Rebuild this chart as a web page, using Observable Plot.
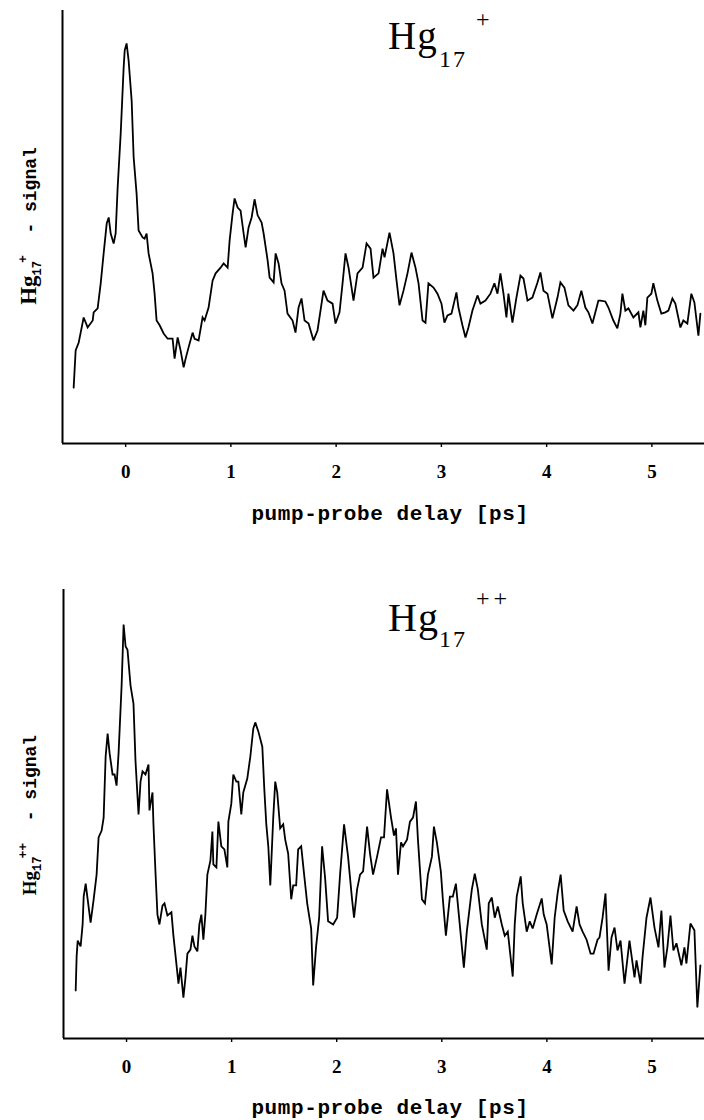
<!DOCTYPE html>
<html><head><meta charset="utf-8">
<script src="https://cdn.jsdelivr.net/npm/d3@7"></script>
<script src="https://cdn.jsdelivr.net/npm/@observablehq/plot@0.6"></script>
<style>
body{margin:0;background:#fff;}
#chart svg{display:block;}
</style></head><body><div id="chart"></div>
<script>
const delayTicks = [0, 1, 2, 3, 4, 5];
const delayDomain = [-0.6, 5.5];
const xLabel = "pump-probe delay [ps]";

// Hg17+ signal (arbitrary units, 0 = axis baseline)
const hg1Delay = [-0.494,-0.475,-0.446,-0.399,-0.361,-0.313,-0.304,-0.266,-0.237,-0.209,-0.180,-0.161,-0.142,-0.114,-0.095,-0.076,-0.047,-0.019,-0.009,0.009,0.028,0.057,0.076,0.104,0.123,0.161,0.180,0.199,0.218,0.256,0.275,0.294,0.323,0.361,0.399,0.446,0.465,0.494,0.522,0.551,0.570,0.598,0.636,0.655,0.693,0.731,0.750,0.788,0.826,0.855,0.902,0.931,0.969,0.988,1.016,1.035,1.064,1.092,1.121,1.140,1.168,1.197,1.225,1.254,1.292,1.311,1.349,1.368,1.406,1.425,1.453,1.481,1.510,1.538,1.586,1.614,1.643,1.671,1.700,1.738,1.785,1.823,1.880,1.918,1.966,1.994,2.032,2.061,2.089,2.118,2.165,2.203,2.251,2.289,2.327,2.355,2.403,2.441,2.460,2.507,2.545,2.574,2.602,2.640,2.678,2.716,2.754,2.783,2.821,2.849,2.877,2.925,2.963,3.001,3.029,3.058,3.096,3.143,3.162,3.200,3.229,3.257,3.295,3.343,3.371,3.419,3.466,3.504,3.533,3.561,3.590,3.618,3.637,3.675,3.713,3.751,3.780,3.818,3.865,3.913,3.941,3.970,4.008,4.055,4.103,4.131,4.169,4.207,4.255,4.292,4.330,4.368,4.397,4.435,4.463,4.492,4.511,4.558,4.587,4.634,4.672,4.701,4.720,4.748,4.777,4.824,4.872,4.891,4.919,4.938,4.957,4.995,5.014,5.052,5.090,5.128,5.157,5.195,5.223,5.271,5.299,5.337,5.375,5.404,5.442,5.461];
const hg1Signal = [12.9,21.5,23.3,29.1,26.8,28.4,30.3,31.2,37.0,43.9,50.8,52.2,48.5,46.2,48.5,59.1,71.6,86.8,90.8,92.4,88.5,79.2,66.1,57.7,49.2,47.6,47.3,48.5,43.9,39.3,34.6,28.4,27.3,25.4,24.2,24.2,19.6,24.5,21.5,17.6,19.6,22.2,25.6,24.2,23.8,29.1,28.4,31.4,37.6,39.3,40.6,41.6,40.6,46.9,53.1,56.6,54.5,53.8,48.5,45.3,49.9,52.2,56.4,52.7,51.0,48.5,42.3,38.3,37.2,43.9,41.6,37.0,35.3,30.0,28.4,25.6,31.4,33.5,28.4,27.7,23.8,26.1,35.3,33.0,32.3,27.7,30.3,37.0,43.9,40.6,33.0,39.3,40.6,46.2,45.0,38.3,39.3,45.0,43.0,48.7,43.9,37.6,31.9,35.3,39.3,44.1,40.6,37.0,28.4,27.9,37.0,36.0,34.6,32.3,27.9,29.6,30.0,34.9,31.4,27.3,24.5,26.8,30.7,34.2,32.3,33.0,34.6,37.0,34.6,39.3,34.6,29.1,34.6,27.9,33.7,38.8,38.1,33.0,33.7,37.2,39.5,35.3,34.6,28.9,33.7,37.2,36.0,31.9,30.7,31.9,35.3,31.4,30.3,27.7,30.3,33.0,33.0,32.8,31.4,28.4,26.6,30.0,34.6,30.7,31.2,29.1,30.3,26.8,30.7,27.3,33.7,34.6,37.0,33.0,30.0,30.3,30.7,33.5,32.3,26.8,28.4,27.7,34.6,32.6,24.9,30.0];

// Hg17++ signal (arbitrary units)
const hg2Delay = [-0.484,-0.475,-0.465,-0.437,-0.418,-0.408,-0.389,-0.370,-0.342,-0.313,-0.285,-0.266,-0.237,-0.218,-0.199,-0.180,-0.161,-0.133,-0.114,-0.095,-0.076,-0.047,-0.028,-0.009,0.009,0.038,0.066,0.085,0.114,0.133,0.152,0.180,0.209,0.218,0.247,0.256,0.275,0.294,0.313,0.342,0.361,0.389,0.427,0.446,0.475,0.494,0.513,0.541,0.560,0.579,0.608,0.627,0.646,0.674,0.693,0.712,0.731,0.750,0.769,0.798,0.817,0.826,0.855,0.874,0.902,0.931,0.959,0.969,0.997,1.016,1.045,1.064,1.092,1.111,1.149,1.178,1.206,1.225,1.254,1.292,1.311,1.330,1.349,1.368,1.396,1.415,1.434,1.462,1.491,1.510,1.538,1.567,1.586,1.614,1.633,1.662,1.690,1.719,1.757,1.776,1.804,1.833,1.861,1.890,1.918,1.966,2.004,2.032,2.070,2.108,2.146,2.165,2.194,2.222,2.251,2.289,2.317,2.346,2.384,2.422,2.450,2.479,2.517,2.545,2.564,2.583,2.612,2.631,2.669,2.697,2.726,2.754,2.773,2.811,2.840,2.868,2.906,2.925,2.953,2.991,3.010,3.039,3.077,3.105,3.134,3.162,3.210,3.238,3.286,3.314,3.343,3.381,3.428,3.447,3.476,3.504,3.533,3.571,3.599,3.628,3.675,3.694,3.713,3.751,3.770,3.808,3.837,3.865,3.903,3.951,3.970,3.998,4.046,4.074,4.103,4.131,4.160,4.198,4.245,4.283,4.311,4.340,4.378,4.416,4.444,4.482,4.501,4.530,4.558,4.587,4.615,4.644,4.672,4.701,4.739,4.786,4.834,4.853,4.891,4.910,4.948,4.986,5.024,5.062,5.090,5.119,5.147,5.176,5.204,5.233,5.280,5.309,5.328,5.366,5.404,5.432,5.461];
const hg2Signal = [10.7,18.3,21.8,20.5,25.4,31.6,34.5,31.0,25.8,31.0,36.5,44.8,46.3,49.2,62.8,67.9,63.5,58.8,58.8,56.3,63.5,78.6,92.2,87.3,86.6,78.6,74.6,61.9,49.9,57.2,59.5,58.8,61.0,50.8,54.8,47.7,37.2,27.6,25.4,29.6,30.1,27.4,28.1,22.9,16.5,12.2,15.8,9.1,13.4,18.9,19.8,22.9,20.5,19.4,25.4,27.6,22.0,27.6,36.5,39.6,46.1,38.8,38.1,48.3,42.8,42.1,38.1,48.3,52.3,58.8,57.2,57.2,49.9,54.8,57.9,62.8,69.0,70.4,68.4,65.0,55.5,47.7,42.8,34.1,49.2,57.2,54.8,46.8,47.7,44.3,41.2,31.0,34.1,34.1,42.1,42.8,36.5,30.1,24.5,11.8,20.5,26.9,42.8,35.6,26.1,25.4,26.9,36.5,47.7,40.5,31.0,26.9,33.2,36.5,37.2,47.2,41.2,36.5,40.5,44.8,44.8,55.5,49.2,45.2,46.8,36.5,43.7,42.8,44.3,48.3,49.2,52.8,44.3,31.0,30.1,36.5,40.5,47.2,43.7,37.2,31.0,22.9,31.6,31.6,34.5,27.6,15.8,23.8,33.2,36.7,33.2,25.4,19.8,30.1,31.4,26.9,29.4,25.4,22.9,23.8,13.8,25.4,31.6,36.1,30.1,23.8,26.1,24.5,27.6,31.2,27.6,25.4,16.5,26.9,32.5,36.5,28.5,26.1,23.8,29.4,25.4,23.8,22.0,18.9,18.9,22.0,22.5,26.9,32.3,15.1,22.5,24.7,19.6,21.8,12.2,21.8,13.6,17.4,12.2,18.0,26.9,31.4,24.7,20.3,28.5,15.8,20.3,27.4,19.6,21.2,16.3,20.3,16.7,25.6,24.1,6.9,16.3];

const panels = [
  {delay: hg1Delay, signal: hg1Signal, charge: "+", height: 530, marginTop: 10, marginBottom: 87, marginLeft: 62,
   title: {x: 388, y: 49, hgSize: 39, subY: 67, supY: 27, supSpacing: 0},
   ylab: {x: 36, y: 226, hgSize: 23}, xlabY: 520},
  {delay: hg2Delay, signal: hg2Signal, charge: "++", height: 590, marginTop: 59, marginBottom: 82, marginLeft: 63,
   title: {x: 388, y: 101, hgSize: 40, subY: 117, supY: 76, supSpacing: 4},
   ylab: {x: 36, y: 285, hgSize: 19}, xlabY: 584}
];

const chart = document.getElementById("chart");
for (const p of panels) {
  const n = Math.min(p.delay.length, p.signal.length);
  const data = d3.range(n).map(i => ({delay: p.delay[i], signal: p.signal[i]}));
  const svg = Plot.plot({
    width: 704, height: p.height,
    marginTop: p.marginTop, marginBottom: p.marginBottom, marginLeft: p.marginLeft, marginRight: 0,
    style: {background: "white", color: "black", fontFamily: "Liberation Serif"},
    x: {domain: delayDomain},
    y: {domain: [0, 100], axis: null},
    marks: [
      Plot.axisX({ticks: delayTicks, tickSize: 4, tickPadding: 17, tickFormat: d3.format("d"), label: null,
                  fontSize: 19, fontWeight: "bold", fontFamily: "Liberation Serif", strokeWidth: 1.4}),
      Plot.ruleY([0], {stroke: "black", strokeWidth: 2}),
      Plot.ruleX([delayDomain[0]], {stroke: "black", strokeWidth: 2}),
      Plot.line(data, {x: "delay", y: "signal", stroke: "black", strokeWidth: 1.8, strokeLinejoin: "miter", strokeMiterlimit: 3})
    ]
  });
  const s = d3.select(svg);
  // panel title Hg17^+
  const t = s.append("g").attr("fill", "black").attr("font-family", "Liberation Serif").attr("text-anchor", "start");
  t.append("text").attr("x", p.title.x).attr("y", p.title.y).attr("font-size", p.title.hgSize).attr("letter-spacing", 1).text("Hg");
  t.append("text").attr("x", 439).attr("y", p.title.subY).attr("font-size", 24).attr("letter-spacing", 2).text("17");
  t.append("text").attr("x", 476).attr("y", p.title.supY).attr("font-size", 24)
    .attr("letter-spacing", p.title.supSpacing).text(p.charge);
  // y label
  const yl = s.append("text")
    .attr("transform", `translate(${p.ylab.x},${p.ylab.y}) rotate(-90)`)
    .attr("text-anchor", "middle").attr("fill", "black").attr("font-weight", "bold");
  yl.append("tspan").attr("font-family", "Liberation Serif").attr("font-size", p.ylab.hgSize).text("Hg");
  yl.append("tspan").attr("font-family", "Liberation Mono").attr("font-size", 12).attr("dy", 5).text("17");
  yl.append("tspan").attr("font-family", "Liberation Mono").attr("font-size", 13).attr("dy", -14).attr("dx", -2).text(p.charge);
  yl.append("tspan").attr("font-family", "Liberation Mono").attr("font-size", 18).attr("dy", 9).text("  - signal");
  // x label
  s.append("text").attr("x", 390).attr("y", p.xlabY).attr("text-anchor", "middle")
    .attr("font-family", "Liberation Mono").attr("font-weight", "bold").attr("font-size", 21)
    .attr("letter-spacing", 0.6).attr("fill", "black").text(xLabel);
  chart.appendChild(svg);
}
</script></body></html>
